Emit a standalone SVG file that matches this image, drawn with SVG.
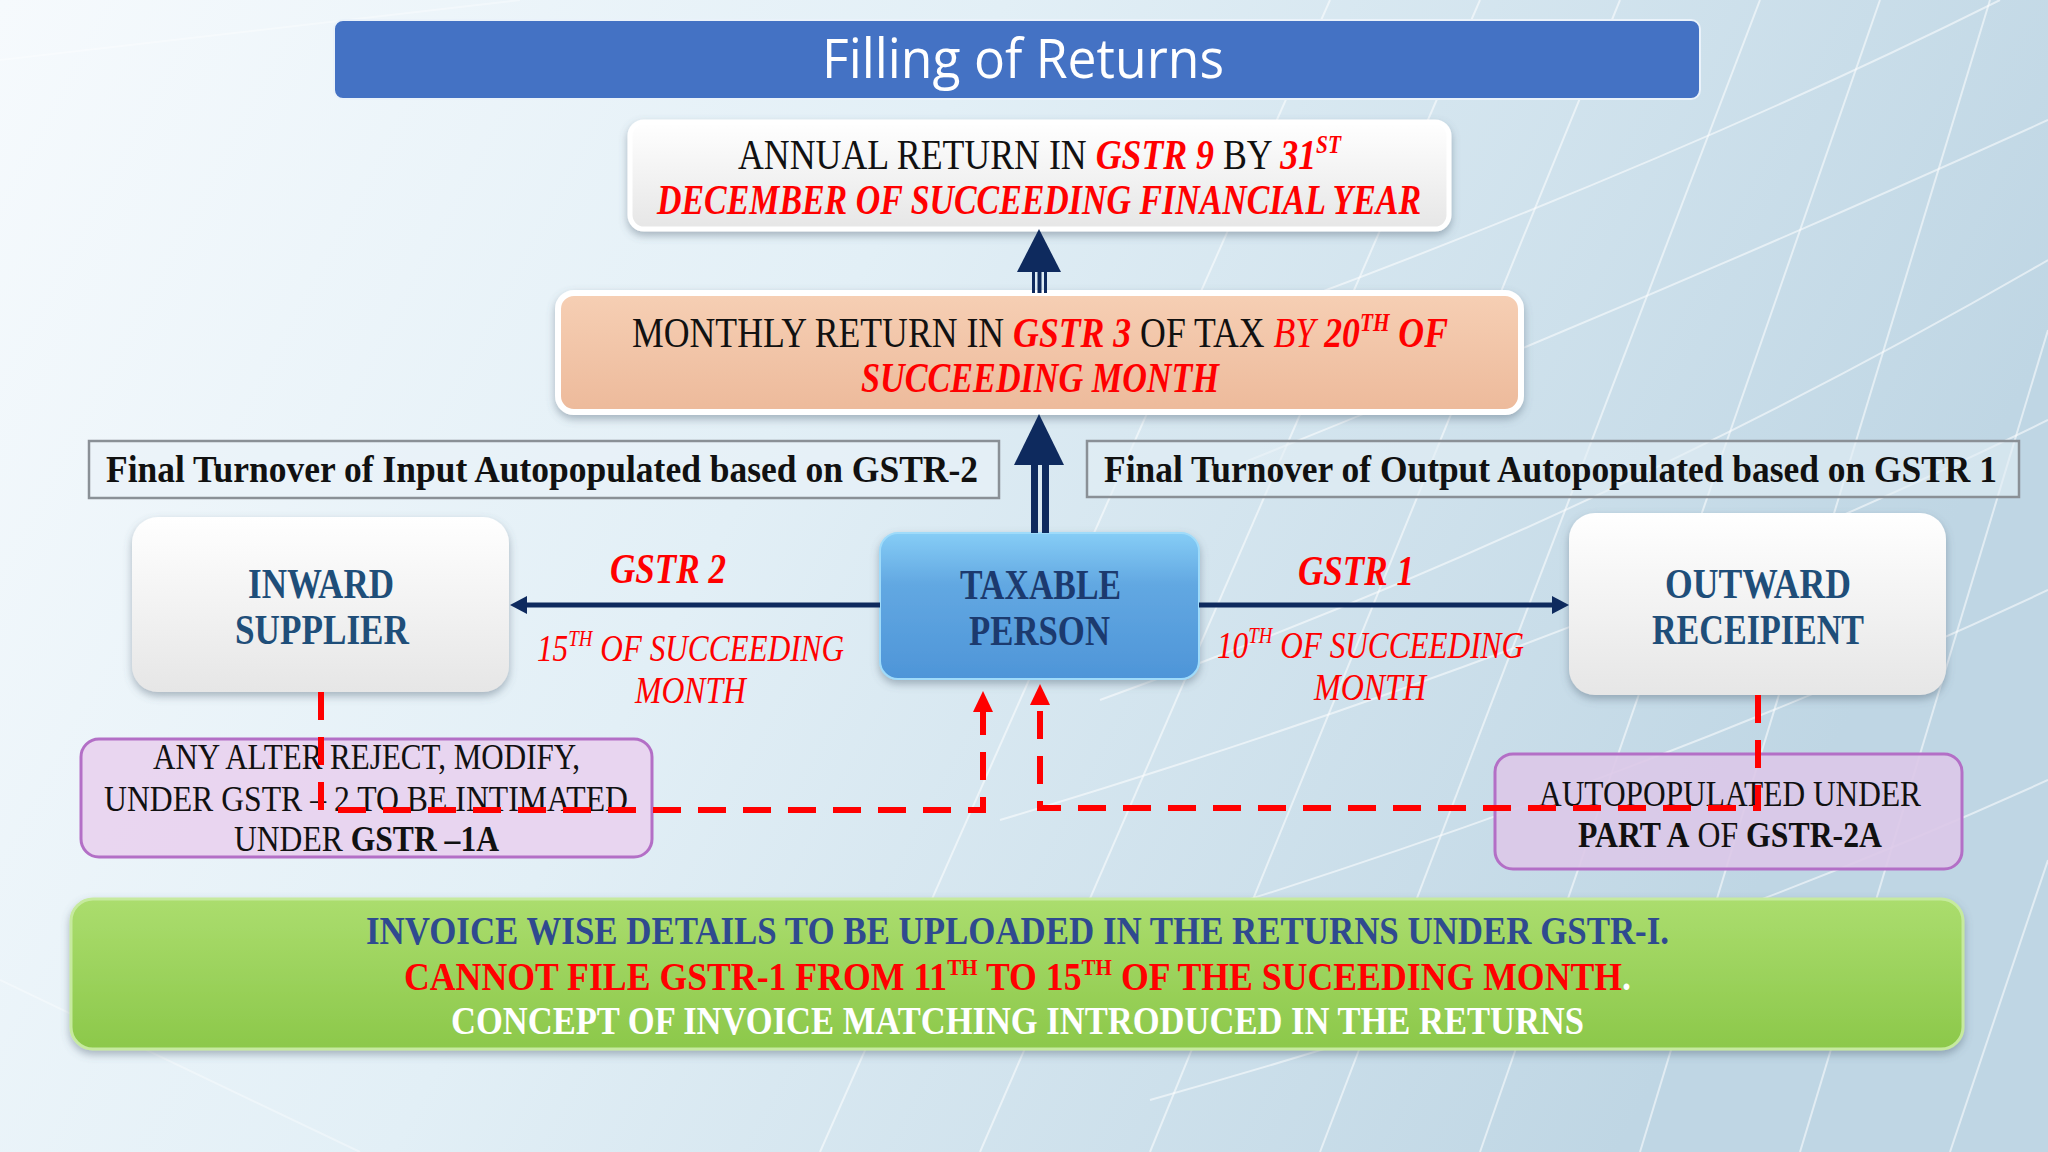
<svg xmlns="http://www.w3.org/2000/svg" width="2048" height="1152" viewBox="0 0 2048 1152">
<defs>
<linearGradient id="bg" x1="0" y1="0" x2="1" y2="0.3">
<stop offset="0" stop-color="#F6FAFD"/>
<stop offset="0.45" stop-color="#E2EFF6"/>
<stop offset="1" stop-color="#BFD6E4"/>
</linearGradient>
<linearGradient id="gWhite" x1="0" y1="0" x2="0" y2="1">
<stop offset="0" stop-color="#FFFFFF"/>
<stop offset="1" stop-color="#E6E6E6"/>
</linearGradient>
<linearGradient id="gPeach" x1="0" y1="0" x2="0" y2="1">
<stop offset="0" stop-color="#F6CFB4"/>
<stop offset="1" stop-color="#EDBA9B"/>
</linearGradient>
<linearGradient id="gBlue" x1="0" y1="0" x2="0" y2="1">
<stop offset="0" stop-color="#86CDF6"/>
<stop offset="0.35" stop-color="#62A8E2"/>
<stop offset="1" stop-color="#4E95D8"/>
</linearGradient>
<linearGradient id="gGreen" x1="0" y1="0" x2="0" y2="1">
<stop offset="0" stop-color="#ABDD6E"/>
<stop offset="1" stop-color="#8CC84A"/>
</linearGradient>
<filter id="sh" x="-10%" y="-20%" width="120%" height="150%">
<feDropShadow dx="0" dy="4" stdDeviation="4" flood-color="#556677" flood-opacity="0.45"/>
</filter>
<marker id="navyHead" markerUnits="userSpaceOnUse" markerWidth="18" markerHeight="20" refX="0" refY="10" orient="auto" viewBox="0 0 18 20">
<path d="M0,1 L17,10 L0,19 z" fill="#0E2A5E"/>
</marker>
<marker id="redHead" markerUnits="userSpaceOnUse" markerWidth="22" markerHeight="22" refX="0" refY="11" orient="auto" viewBox="0 0 22 22">
<path d="M0,1 L21,11 L0,21 z" fill="#FF0000"/>
</marker>
<style>
.serif{font-family:"Liberation Serif","DejaVu Serif",serif}
.blk{fill:#111111}
.red{fill:#FF0000}
.bi{font-weight:bold;font-style:italic}
.it{font-style:italic}
.b{font-weight:bold}
.nav{fill:#1F4E79;font-weight:bold}
.navy{stroke:#0E2A5E;stroke-width:5;fill:none}
.dash{stroke:#FF0000;stroke-width:6;fill:none;stroke-dasharray:28 17}
.grid{stroke:#FFFFFF;stroke-opacity:0.55;stroke-width:2;fill:none}
</style>
</defs>

<rect x="0" y="0" width="2048" height="1152" fill="url(#bg)"/>
<g id="background-lattice" class="grid">
<path d="M1150,1152 L1620,0"/>
<path d="M1320,1152 L1760,0"/>
<path d="M1480,1152 L1880,0"/>
<path d="M1640,1152 L1990,0"/>
<path d="M1800,1152 L2048,330"/>
<path d="M1950,1152 L2048,860"/>
<path d="M980,1152 L1480,0"/>
<path d="M820,1152 L1330,0"/>
<path d="M1100,700 Q1600,520 2048,260"/>
<path d="M1000,820 Q1600,640 2048,420"/>
<path d="M1050,960 Q1600,800 2048,590"/>
<path d="M1150,1100 Q1650,960 2048,780"/>
<path d="M1200,480 Q1650,300 2048,120"/>
<path d="M1300,300 Q1700,150 2000,0"/>
<path d="M0,980 L360,1152" stroke-opacity="0.35"/>
<path d="M0,60 L520,0" stroke-opacity="0.35"/>
</g>

<g id="title">
<rect x="334" y="20" width="1366" height="79" rx="9" fill="#4472C4" stroke="#EAF2FA" stroke-width="2"/>
<text x="822" y="78" font-family="Open Sans, Liberation Sans, sans-serif" font-size="54" fill="#FFFFFF" textLength="402" lengthAdjust="spacingAndGlyphs">Filling of Returns</text>
</g>

<g id="gstr9">
<rect x="630" y="122" width="819" height="107" rx="14" fill="url(#gWhite)" stroke="#FFFFFF" stroke-width="5" filter="url(#sh)"/>
<text class="serif" x="738" y="169" font-size="42" textLength="603" lengthAdjust="spacingAndGlyphs"><tspan class="blk">ANNUAL RETURN IN </tspan><tspan class="red bi">GSTR 9</tspan><tspan class="blk"> BY </tspan><tspan class="red bi">31</tspan><tspan class="red bi" font-size="25" dy="-16">ST</tspan></text>
<text class="serif red bi" x="657" y="214" font-size="42" textLength="764" lengthAdjust="spacingAndGlyphs">DECEMBER OF SUCCEEDING FINANCIAL YEAR</text>
</g>

<g id="gstr3">
<rect x="558" y="293" width="963" height="119" rx="16" fill="url(#gPeach)" stroke="#FFFFFF" stroke-width="6" filter="url(#sh)"/>
<text class="serif" x="632" y="347" font-size="42" textLength="816" lengthAdjust="spacingAndGlyphs"><tspan class="blk">MONTHLY RETURN IN </tspan><tspan class="red bi">GSTR 3</tspan><tspan class="blk"> OF TAX </tspan><tspan class="red it">BY </tspan><tspan class="red bi">20</tspan><tspan class="red bi" font-size="25" dy="-16">TH</tspan><tspan class="red bi" dy="16"> OF</tspan></text>
<text class="serif red bi" x="861" y="392" font-size="42" textLength="358" lengthAdjust="spacingAndGlyphs">SUCCEEDING MONTH</text>
</g>

<g id="label-input">
<rect x="89" y="441" width="910" height="57" fill="#E9F2F8" fill-opacity="0.6" stroke="#8A9096" stroke-width="2.5"/>
<text class="serif blk b" x="106" y="482" font-size="37" textLength="872" lengthAdjust="spacingAndGlyphs">Final Turnover of Input Autopopulated based on GSTR-2</text>
</g>

<g id="label-output">
<rect x="1087" y="441" width="932" height="56" fill="#E3EEF5" fill-opacity="0.6" stroke="#8A9096" stroke-width="2.5"/>
<text class="serif blk b" x="1104" y="482" font-size="37" textLength="893" lengthAdjust="spacingAndGlyphs">Final Turnover of Output Autopopulated based on GSTR 1</text>
</g>

<g id="inward-supplier">
<rect x="132" y="517" width="377" height="175" rx="26" fill="url(#gWhite)" filter="url(#sh)"/>
<text class="serif nav" x="248" y="598" font-size="43" textLength="146" lengthAdjust="spacingAndGlyphs">INWARD</text>
<text class="serif nav" x="235" y="644" font-size="43" textLength="174" lengthAdjust="spacingAndGlyphs">SUPPLIER</text>
</g>

<g id="taxable-person">
<rect x="880" y="533" width="319" height="146" rx="18" fill="url(#gBlue)" stroke="#9FDBFA" stroke-width="2" filter="url(#sh)"/>
<text class="serif b" fill="#1C3A6E" x="960" y="599" font-size="43" textLength="161" lengthAdjust="spacingAndGlyphs">TAXABLE</text>
<text class="serif b" fill="#1C3A6E" x="969" y="645" font-size="43" textLength="141" lengthAdjust="spacingAndGlyphs">PERSON</text>
</g>

<g id="outward-receipient">
<rect x="1569" y="513" width="377" height="182" rx="26" fill="url(#gWhite)" filter="url(#sh)"/>
<text class="serif nav" x="1665" y="598" font-size="43" textLength="186" lengthAdjust="spacingAndGlyphs">OUTWARD</text>
<text class="serif nav" x="1652" y="644" font-size="43" textLength="212" lengthAdjust="spacingAndGlyphs">RECEIPIENT</text>
</g>

<g id="label-gstr2">
<text class="serif red bi" x="610" y="583" font-size="43" textLength="116" lengthAdjust="spacingAndGlyphs">GSTR 2</text>
<text class="serif red it" x="537" y="661" font-size="38" textLength="307" lengthAdjust="spacingAndGlyphs">15<tspan font-size="23" dy="-15">TH</tspan><tspan dy="15"> OF SUCCEEDING</tspan></text>
<text class="serif red it" x="635" y="703" font-size="38" textLength="111" lengthAdjust="spacingAndGlyphs">MONTH</text>
</g>

<g id="label-gstr1">
<text class="serif red bi" x="1298" y="585" font-size="43" textLength="116" lengthAdjust="spacingAndGlyphs">GSTR 1</text>
<text class="serif red it" x="1217" y="658" font-size="38" textLength="307" lengthAdjust="spacingAndGlyphs">10<tspan font-size="23" dy="-15">TH</tspan><tspan dy="15"> OF SUCCEEDING</tspan></text>
<text class="serif red it" x="1314" y="700" font-size="38" textLength="112" lengthAdjust="spacingAndGlyphs">MONTH</text>
</g>

<g id="note-gstr1a">
<rect x="81" y="739" width="571" height="118" rx="18" fill="#E8D3EF" fill-opacity="0.92" stroke="#B36FC6" stroke-width="3"/>
<text class="serif blk" x="153" y="769" font-size="35" textLength="427" lengthAdjust="spacingAndGlyphs">ANY ALTER  REJECT, MODIFY,</text>
<text class="serif blk" x="104" y="811" font-size="35" textLength="524" lengthAdjust="spacingAndGlyphs">UNDER GSTR – 2 TO BE INTIMATED</text>
<text class="serif blk" x="234" y="851" font-size="35" textLength="265" lengthAdjust="spacingAndGlyphs">UNDER <tspan class="b">GSTR –1A</tspan></text>
</g>

<g id="note-gstr2a">
<rect x="1495" y="754" width="467" height="115" rx="18" fill="#DCC8E8" fill-opacity="0.9" stroke="#B36FC6" stroke-width="3"/>
<text class="serif blk" x="1539" y="806" font-size="35" textLength="382" lengthAdjust="spacingAndGlyphs">AUTOPOPULATED UNDER</text>
<text class="serif blk" x="1578" y="847" font-size="35" textLength="304" lengthAdjust="spacingAndGlyphs"><tspan class="b">PART A</tspan> OF <tspan class="b">GSTR-2A</tspan></text>
</g>

<g id="connectors">
<g id="arrow-gstr3-gstr9" fill="#0E2A5E">
<polygon points="1039,229 1017,272 1061,272"/>
<rect x="1032" y="271" width="3" height="22"/>
<rect x="1037.5" y="271" width="4" height="22"/>
<rect x="1044" y="271" width="3" height="22"/>
</g>
<g id="arrow-taxable-gstr3" fill="#0E2A5E">
<polygon points="1039,414 1014,465 1064,465"/>
<rect x="1031" y="464" width="7" height="69"/>
<rect x="1042" y="464" width="7" height="69"/>
</g>
<path class="navy" d="M880,605 H527" marker-end="url(#navyHead)"/>
<path class="navy" d="M1199,605 H1552" marker-end="url(#navyHead)"/>
<path class="dash" d="M321,692 V810 H983 V712" marker-end="url(#redHead)"/>
<path class="dash" d="M1758,695 V808 H1040 V705" marker-end="url(#redHead)"/>
</g>

<g id="summary">
<rect x="71" y="899" width="1892" height="150" rx="22" fill="url(#gGreen)" stroke="#C6EA9E" stroke-width="3" filter="url(#sh)"/>
<text class="serif b" fill="#2F4A8F" x="366" y="944" font-size="39" textLength="1303" lengthAdjust="spacingAndGlyphs">INVOICE WISE DETAILS TO BE UPLOADED IN THE RETURNS UNDER GSTR-I.</text>
<text class="serif b" x="404" y="990" font-size="39" textLength="1227" lengthAdjust="spacingAndGlyphs"><tspan class="red">CANNOT FILE GSTR-1 FROM 11</tspan><tspan class="red" font-size="23" dy="-15">TH</tspan><tspan class="red" dy="15"> TO 15</tspan><tspan class="red" font-size="23" dy="-15">TH</tspan><tspan class="red" dy="15"> OF THE SUCEEDING MONTH</tspan><tspan fill="#FFFFFF">.</tspan></text>
<text class="serif b" fill="#FFFFFF" x="451" y="1034" font-size="39" textLength="1133" lengthAdjust="spacingAndGlyphs">CONCEPT OF INVOICE MATCHING INTRODUCED IN THE RETURNS</text>
</g>
</svg>
